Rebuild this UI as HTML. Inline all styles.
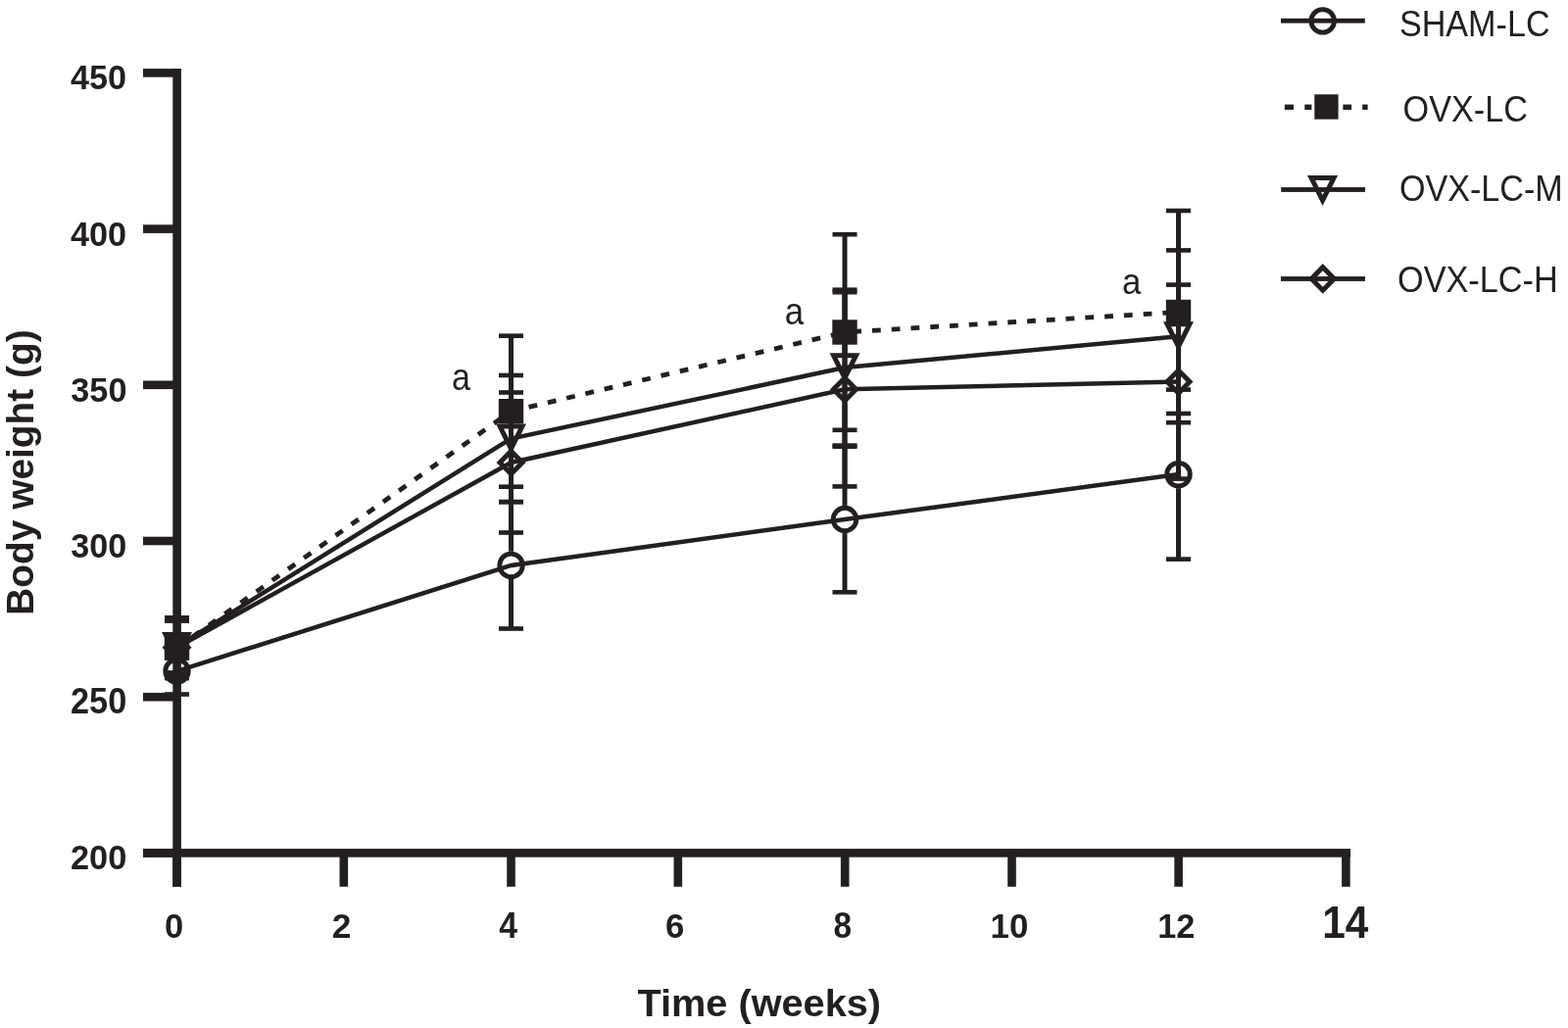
<!DOCTYPE html>
<html lang="en"><head><meta charset="utf-8"><title>Body weight over time</title>
<style>html,body{margin:0;padding:0;background:#fff;overflow:hidden}svg{display:block}</style>
</head><body>
<svg width="1600" height="1049" viewBox="0 0 1600 1049">
<rect width="1600" height="1049" fill="#fff"/>
<g fill="#231f20">
<rect x="176.3" y="70" width="8.6" height="834.8"/>
<rect x="146" y="70.10" width="34.5" height="8.6"/>
<rect x="146" y="229.30" width="34.5" height="8.6"/>
<rect x="146" y="388.50" width="34.5" height="8.6"/>
<rect x="146" y="547.70" width="34.5" height="8.6"/>
<rect x="146" y="706.90" width="34.5" height="8.6"/>
<rect x="146" y="866.10" width="34.5" height="8.6"/>
<rect x="146" y="866.10" width="1232" height="8.6"/>
<rect x="176.20" y="870" width="8.6" height="34.8"/>
<rect x="346.50" y="870" width="8.6" height="34.8"/>
<rect x="517.20" y="870" width="8.6" height="34.8"/>
<rect x="687.50" y="870" width="8.6" height="34.8"/>
<rect x="857.90" y="870" width="8.6" height="34.8"/>
<rect x="1028.20" y="870" width="8.6" height="34.8"/>
<rect x="1198.30" y="870" width="8.6" height="34.8"/>
<rect x="1369.10" y="870" width="8.6" height="34.8"/>
<rect x="178.00" y="661.10" width="5.0" height="9.60"/>
<rect x="168.00" y="658.80" width="25.0" height="4.6"/>
<rect x="178.00" y="698.90" width="5.0" height="9.60"/>
<rect x="168.00" y="706.20" width="25.0" height="4.6"/>
<rect x="519.00" y="512.30" width="5.0" height="50.50"/>
<rect x="509.00" y="510.00" width="25.0" height="4.6"/>
<rect x="519.00" y="591.00" width="5.0" height="50.50"/>
<rect x="509.00" y="639.20" width="25.0" height="4.6"/>
<rect x="859.50" y="455.70" width="5.0" height="60.20"/>
<rect x="849.50" y="453.40" width="25.0" height="4.6"/>
<rect x="859.50" y="544.10" width="5.0" height="60.20"/>
<rect x="849.50" y="602.00" width="25.0" height="4.6"/>
<rect x="1200.00" y="397.60" width="5.0" height="72.40"/>
<rect x="1190.00" y="395.30" width="25.0" height="4.6"/>
<rect x="1200.00" y="498.20" width="5.0" height="72.40"/>
<rect x="1190.00" y="568.30" width="25.0" height="4.6"/>
<rect x="178.00" y="630.30" width="5.0" height="18.20"/>
<rect x="168.00" y="628.00" width="25.0" height="4.6"/>
<rect x="178.00" y="673.90" width="5.0" height="18.20"/>
<rect x="168.00" y="689.80" width="25.0" height="4.6"/>
<rect x="519.00" y="342.70" width="5.0" height="64.30"/>
<rect x="509.00" y="340.40" width="25.0" height="4.6"/>
<rect x="519.00" y="432.40" width="5.0" height="64.30"/>
<rect x="509.00" y="494.40" width="25.0" height="4.6"/>
<rect x="859.50" y="239.20" width="5.0" height="87.10"/>
<rect x="849.50" y="236.90" width="25.0" height="4.6"/>
<rect x="859.50" y="351.70" width="5.0" height="87.10"/>
<rect x="849.50" y="436.50" width="25.0" height="4.6"/>
<rect x="1200.00" y="215.00" width="5.0" height="90.80"/>
<rect x="1190.00" y="212.70" width="25.0" height="4.6"/>
<rect x="1200.00" y="331.20" width="5.0" height="90.80"/>
<rect x="1190.00" y="419.70" width="25.0" height="4.6"/>
<rect x="178.00" y="633.60" width="5.0" height="11.40"/>
<rect x="168.00" y="631.30" width="25.0" height="4.6"/>
<rect x="178.00" y="676.00" width="5.0" height="10.40"/>
<rect x="168.00" y="684.10" width="25.0" height="4.6"/>
<rect x="519.00" y="383.00" width="5.0" height="49.50"/>
<rect x="509.00" y="380.70" width="25.0" height="4.6"/>
<rect x="519.00" y="463.50" width="5.0" height="48.50"/>
<rect x="509.00" y="509.70" width="25.0" height="4.6"/>
<rect x="859.50" y="295.70" width="5.0" height="64.45"/>
<rect x="849.50" y="293.40" width="25.0" height="4.6"/>
<rect x="859.50" y="391.15" width="5.0" height="63.45"/>
<rect x="849.50" y="452.30" width="25.0" height="4.6"/>
<rect x="1200.00" y="255.40" width="5.0" height="72.90"/>
<rect x="1190.00" y="253.10" width="25.0" height="4.6"/>
<rect x="1200.00" y="359.30" width="5.0" height="71.90"/>
<rect x="1190.00" y="428.90" width="25.0" height="4.6"/>
<rect x="178.00" y="631.90" width="5.0" height="13.60"/>
<rect x="168.00" y="629.60" width="25.0" height="4.6"/>
<rect x="178.00" y="675.90" width="5.0" height="13.60"/>
<rect x="168.00" y="687.20" width="25.0" height="4.6"/>
<rect x="519.00" y="400.50" width="5.0" height="56.30"/>
<rect x="509.00" y="398.20" width="25.0" height="4.6"/>
<rect x="519.00" y="487.20" width="5.0" height="56.30"/>
<rect x="509.00" y="541.20" width="25.0" height="4.6"/>
<rect x="859.50" y="298.20" width="5.0" height="83.90"/>
<rect x="849.50" y="295.90" width="25.0" height="4.6"/>
<rect x="859.50" y="412.50" width="5.0" height="83.90"/>
<rect x="849.50" y="494.10" width="25.0" height="4.6"/>
<rect x="1200.00" y="290.60" width="5.0" height="83.80"/>
<rect x="1190.00" y="288.30" width="25.0" height="4.6"/>
<rect x="1200.00" y="404.80" width="5.0" height="83.80"/>
<rect x="1190.00" y="486.30" width="25.0" height="4.6"/>
<polyline points="180.5,684.8 521.5,576.9 862.0,530.0 1202.5,484.1" fill="none" stroke="#231f20" stroke-width="4.5"/>
<polyline points="180.5,660.0 521.5,447.5 862.0,375.1 1202.5,343.3" fill="none" stroke="#231f20" stroke-width="4.5"/>
<polyline points="180.5,660.7 521.5,472.0 862.0,397.3 1202.5,389.6" fill="none" stroke="#231f20" stroke-width="4.5"/>
<line x1="180.5" y1="661.2" x2="521.5" y2="419.7" stroke="#231f20" stroke-width="4.8" stroke-dasharray="8.8 11" stroke-dashoffset="19.3"/>
<line x1="521.5" y1="419.7" x2="862.0" y2="339.0" stroke="#231f20" stroke-width="4.8" stroke-dasharray="8.8 11" stroke-dashoffset="1.2"/>
<line x1="862.0" y1="339.0" x2="1202.5" y2="318.5" stroke="#231f20" stroke-width="4.8" stroke-dasharray="8.8 11" stroke-dashoffset="11.6"/>
<circle cx="180.50" cy="684.80" r="11.75" fill="none" stroke="#231f20" stroke-width="4.9"/>
<circle cx="521.50" cy="576.90" r="11.75" fill="none" stroke="#231f20" stroke-width="4.9"/>
<circle cx="862.00" cy="530.00" r="11.75" fill="none" stroke="#231f20" stroke-width="4.9"/>
<circle cx="1202.50" cy="484.10" r="11.75" fill="none" stroke="#231f20" stroke-width="4.9"/>
<rect x="167.80" y="648.50" width="25.4" height="25.4"/>
<rect x="508.80" y="407.00" width="25.4" height="25.4"/>
<rect x="849.30" y="326.30" width="25.4" height="25.4"/>
<rect x="1189.80" y="305.80" width="25.4" height="25.4"/>
<path fill-rule="evenodd" d="M165.00,645.00 L196.00,645.00 L180.50,676.00 Z M173.09,650.00 L187.91,650.00 L180.50,664.82 Z"/>
<path fill-rule="evenodd" d="M506.00,432.50 L537.00,432.50 L521.50,463.50 Z M514.09,437.50 L528.91,437.50 L521.50,452.32 Z"/>
<path fill-rule="evenodd" d="M846.50,360.15 L877.50,360.15 L862.00,391.15 Z M854.59,365.15 L869.41,365.15 L862.00,379.97 Z"/>
<path fill-rule="evenodd" d="M1187.00,328.30 L1218.00,328.30 L1202.50,359.30 Z M1195.09,333.30 L1209.91,333.30 L1202.50,348.12 Z"/>
<path fill-rule="evenodd" d="M180.50,645.50 L195.50,660.70 L180.50,675.90 L165.50,660.70 Z M180.50,652.62 L188.48,660.70 L180.50,668.78 L172.52,660.70 Z"/>
<path fill-rule="evenodd" d="M521.50,456.80 L536.50,472.00 L521.50,487.20 L506.50,472.00 Z M521.50,463.92 L529.48,472.00 L521.50,480.08 L513.52,472.00 Z"/>
<path fill-rule="evenodd" d="M862.00,382.10 L877.00,397.30 L862.00,412.50 L847.00,397.30 Z M862.00,389.22 L869.98,397.30 L862.00,405.38 L854.02,397.30 Z"/>
<path fill-rule="evenodd" d="M1202.50,374.40 L1217.50,389.60 L1202.50,404.80 L1187.50,389.60 Z M1202.50,381.52 L1210.48,389.60 L1202.50,397.68 L1194.52,389.60 Z"/>
<rect x="1307" y="18.8" width="85.8" height="4.8"/>
<circle cx="1349.70" cy="21.40" r="11.75" fill="none" stroke="#231f20" stroke-width="4.9"/>
<rect x="1310.9" y="106.6" width="9.1" height="5.4"/>
<rect x="1331.3" y="106.6" width="7.1" height="5.4"/>
<rect x="1370.4" y="106.6" width="8.7" height="5.4"/>
<rect x="1390.2" y="106.6" width="5.4" height="5.4"/>
<rect x="1341.3" y="96.3" width="24.3" height="25.4"/>
<rect x="1307.2" y="191.1" width="85.8" height="4.8"/>
<path fill-rule="evenodd" d="M1334.00,178.90 L1365.10,178.90 L1349.60,210.10 Z M1342.09,183.90 L1357.03,183.90 L1349.59,198.89 Z"/>
<rect x="1307" y="282.1" width="86" height="4.8"/>
<path fill-rule="evenodd" d="M1349.80,269.00 L1364.90,284.40 L1349.80,299.80 L1334.70,284.40 Z M1349.80,276.14 L1357.90,284.40 L1349.80,292.66 L1341.70,284.40 Z"/>
</g>
<g fill="#231f20" font-family="'Liberation Sans', Arial, Helvetica, sans-serif">
<text transform="translate(72.02 90.64) scale(0.9604 1)" font-size="35.63" font-weight="bold">450</text>
<text transform="translate(71.92 250.64) scale(0.9604 1)" font-size="35.63" font-weight="bold">400</text>
<text transform="translate(72.32 409.85) scale(0.9642 1)" font-size="35.49" font-weight="bold">350</text>
<text transform="translate(72.32 569.05) scale(0.9625 1)" font-size="35.49" font-weight="bold">300</text>
<text transform="translate(71.97 728.14) scale(0.9516 1)" font-size="36.06" font-weight="bold">250</text>
<text transform="translate(71.97 886.84) scale(0.9647 1)" font-size="35.63" font-weight="bold">200</text>
<text transform="translate(168.02 956.84) scale(0.9673 1)" font-size="35.63" font-weight="bold">0</text>
<text transform="translate(338.84 957.00) scale(1.0006 1)" font-size="35.29" font-weight="bold">2</text>
<text transform="translate(509.22 956.90) scale(0.9284 1)" font-size="36.38" font-weight="bold">4</text>
<text transform="translate(679.11 956.84) scale(0.9725 1)" font-size="35.77" font-weight="bold">6</text>
<text transform="translate(850.40 956.94) scale(0.9227 1)" font-size="36.20" font-weight="bold">8</text>
<text transform="translate(1010.51 956.55) scale(0.9858 1)" font-size="35.35" font-weight="bold">10</text>
<text transform="translate(1181.14 956.90) scale(0.9554 1)" font-size="35.86" font-weight="bold">12</text>
<text transform="translate(1349.15 956.80) scale(0.9304 1)" font-size="45.65" font-weight="bold">14</text>
<text transform="translate(650.50 1036.52) scale(1.0195 1)" font-size="38.94" font-weight="bold">Time (weeks)</text>
<text transform="translate(1427.89 37.33) scale(0.9190 1)" font-size="37.18" font-weight="normal">SHAM-LC</text>
<text transform="translate(1431.59 123.94) scale(0.9379 1)" font-size="36.48" font-weight="normal">OVX-LC</text>
<text transform="translate(1427.89 205.04) scale(0.9395 1)" font-size="36.34" font-weight="normal">OVX-LC-M</text>
<text transform="translate(1425.99 298.24) scale(0.9397 1)" font-size="36.48" font-weight="normal">OVX-LC-H</text>
<text transform="translate(461.04 398.21) scale(0.8831 1)" font-size="38.55" font-weight="normal">a</text>
<text transform="translate(800.81 331.32) scale(0.9116 1)" font-size="38.18" font-weight="normal">a</text>
<text transform="translate(1144.91 300.12) scale(0.9204 1)" font-size="37.82" font-weight="normal">a</text>
<text transform="translate(33.78 627.72) rotate(-90) scale(0.9930 1)" font-size="39.15" font-weight="bold">Body weight (g)</text>
</g>
</svg>
</body></html>
